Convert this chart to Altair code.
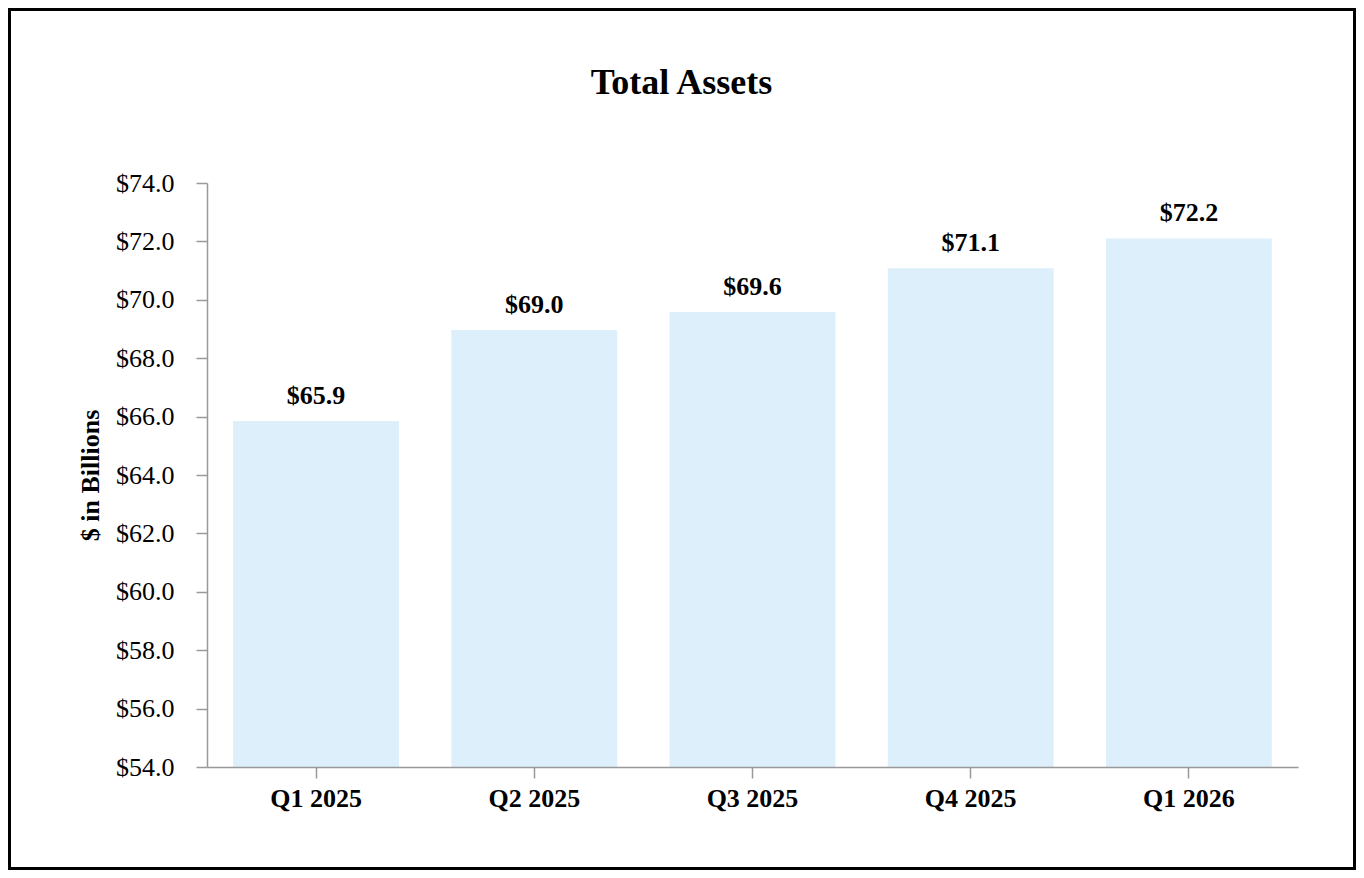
import altair as alt
import pandas as pd

quarters = ["Q1 2025", "Q2 2025", "Q3 2025", "Q4 2025", "Q1 2026"]
values = [65.85, 68.97, 69.58, 71.08, 72.1]
labels = ["$65.9", "$69.0", "$69.6", "$71.1", "$72.2"]

df = pd.DataFrame({"quarter": quarters, "value": values, "label": labels})

FONT = "Liberation Serif"
W, H = 1091, 584
PL, PT = 199, 175
PR = 1348 - PL - W
PB = 862 - PT - H

x = alt.X("quarter:N", sort=quarters, title=None,
          scale=alt.Scale(paddingInner=0.24, paddingOuter=0.12),
          axis=alt.Axis(labelAngle=0, labelFont=FONT, labelFontSize=26, labelFontWeight="bold",
                        labelColor="black", tickSize=11, tickColor="#999999", domainColor="#999999",
                        labelPadding=7, domainWidth=1.5, tickWidth=1.5, zindex=1))
y = alt.Y("value:Q", title="$ in Billions",
          scale=alt.Scale(domain=[54, 74], zero=False, nice=False),
          axis=alt.Axis(values=list(range(54, 75, 2)), format="$.1f", labelFont=FONT, labelFontSize=26,
                        labelColor="black", tickSize=11, tickColor="#999999", domainColor="#999999",
                        labelPadding=22, grid=False, titleFont=FONT, titleFontSize=26,
                        titleFontWeight="bold", titleColor="black", titlePadding=12,
                        domainWidth=1.5, tickWidth=1.5, zindex=1))

bars = alt.Chart(df).mark_bar(color="#DCEFFB", clip=True).encode(x=x, y=y)
text = alt.Chart(df).mark_text(font=FONT, fontSize=26, fontWeight="bold", baseline="alphabetic",
                               dy=-17, color="black").encode(
    x=alt.X("quarter:N", sort=quarters), y="value:Q", text="label:N")

border = alt.Chart(alt.Data(values=[{}])).mark_rect(filled=False, stroke="black", strokeWidth=3).encode(
    x=alt.value(-PL + 1.5), x2=alt.value(W + PR - 1.5),
    y=alt.value(-PT + 1.5), y2=alt.value(H + PB - 1.5))

chart = alt.layer(bars, text, border).properties(
    width=W, height=H,
    title=alt.TitleParams("Total Assets", font=FONT, fontSize=36, fontWeight="bold", color="black",
                          anchor="middle", dx=-71, dy=82, offset=-12),
    autosize=alt.AutoSizeParams(type="none"),
    padding={"left": PL, "top": PT, "right": PR, "bottom": PB},
).configure_view(stroke=None)

chart.save("out.html", embed_options={"renderer": "svg", "actions": False})
